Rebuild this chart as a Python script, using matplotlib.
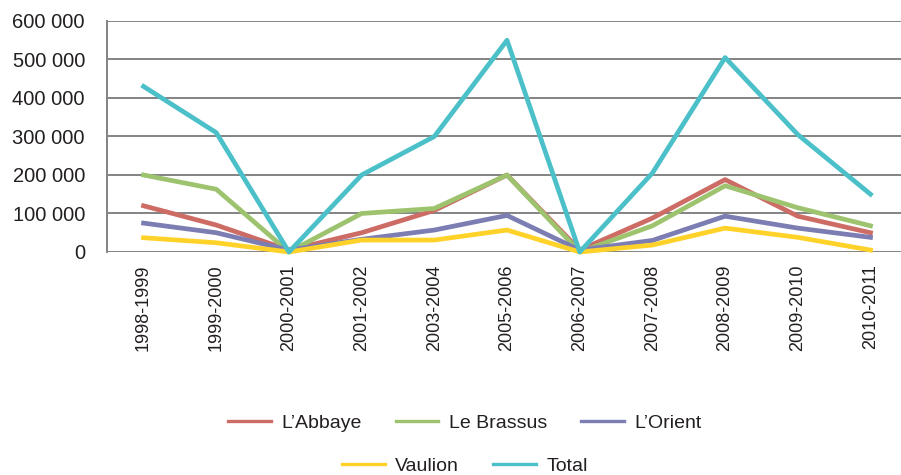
import numpy as np
import matplotlib.pyplot as plt
from matplotlib.ticker import FuncFormatter

plt.rcParams['font.family'] = ['Liberation Sans', 'DejaVu Sans']

seasons = ['1998-1999', '1999-2000', '2000-2001', '2001-2002', '2003-2004',
           '2005-2006', '2006-2007', '2007-2008', '2008-2009', '2009-2010',
           '2010-2011']

abbaye = [120000, 70000, 5000, 50000, 108000, 200000, 5000, 88000, 188000, 93000, 50000]
brassus = [200000, 163000, 0, 100000, 113000, 200000, 0, 68000, 172000, 115000, 68000]
orient = [75000, 50000, 5000, 33000, 57000, 95000, 5000, 30000, 93000, 62000, 38000]
vaulion = [37000, 24000, 0, 31000, 31000, 57000, 0, 18000, 62000, 38000, 5000]
total = [430000, 310000, 0, 200000, 300000, 550000, 0, 205000, 505000, 305000, 150000]

series = [
    ("L\u2019Abbaye", abbaye, '#CD6B65'),
    ("Le Brassus", brassus, '#9DC36F'),
    ("L\u2019Orient", orient, '#7B7DB3'),
    ("Vaulion", vaulion, '#FFD22A'),
    ("Total", total, '#4BC0C8'),
]
txt = '#231F20'

fig = plt.figure(figsize=(9.01, 4.75), dpi=100)
ax = fig.add_axes([0.119, 0.4695, 0.881, 0.4863])

x = np.arange(len(seasons))
handles = []
for name, vals, col in series:
    h, = ax.plot(x, vals, color=col, lw=3.4, label=name, clip_on=False)
    handles.append(h)

ax.set_ylim(0, 600000)
ax.set_xlim(-0.5, 10.42)
ax.set_yticks(np.arange(0, 600001, 100000))
ax.yaxis.set_major_formatter(FuncFormatter(lambda v, p: f"{int(v):,}".replace(',', ' ')))
ax.set_xticks(x)
ax.set_xticklabels(seasons, rotation=90)
ax.tick_params(axis='y', length=0, pad=16, labelsize=14.5, labelcolor=txt)
ax.tick_params(axis='x', length=0, pad=9, labelsize=13, labelcolor=txt)
ax.grid(axis='y', color='#838383', lw=1.4)
ax.set_axisbelow(True)
for s in ['top', 'right', 'bottom']:
    ax.spines[s].set_visible(False)
ax.spines['left'].set_color('#838383')
ax.spines['left'].set_linewidth(1.4)

# legend in two centred rows: 3 entries then 2
for idx, yy, nc in ((slice(0, 3), 0.109, 3), (slice(3, 5), 0.019, 2)):
    leg = fig.legend(handles[idx], [s[0] for s in series[idx]], loc='center',
                     bbox_to_anchor=(0.516, yy), ncol=nc, frameon=False,
                     fontsize=14, handlelength=2.2, columnspacing=1.75,
                     handletextpad=0.55)
    for t in leg.get_texts():
        t.set_color(txt)
    for l in leg.get_lines():
        l.set_linewidth(2.4)

fig.savefig('out.png', dpi=100)
